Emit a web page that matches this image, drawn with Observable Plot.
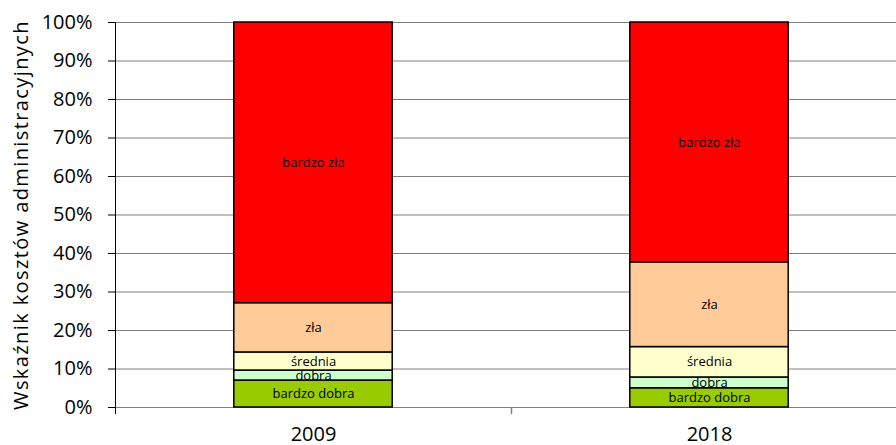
<!DOCTYPE html>
<html>
<head>
<meta charset="utf-8">
<script src="https://cdn.jsdelivr.net/npm/d3@7"></script>
<script src="https://cdn.jsdelivr.net/npm/@observablehq/plot@0.6"></script>
<style>
  html, body { margin: 0; padding: 0; background: #fff; }
  #chart svg { display: block; }
</style>
</head>
<body>
<div id="chart"></div>
<script>
// Years on the horizontal axis
const years = ["2009", "2018"];
// Rating categories, stacked bottom to top
const categories = ["bardzo dobra", "dobra", "średnia", "zła", "bardzo zła"];
// Share of each category (%) per year
const values2009 = [7.0, 2.6, 4.7, 12.8, 72.9];
const values2018 = [5.0, 2.8, 7.9, 22.0, 62.3];
// Fill colour per category
const categoryColors = ["#99cc00", "#ccffcc", "#ffffcc", "#ffcc99", "#ff0000"];
// Y tick values (%)
const yTicks = [0, 10, 20, 30, 40, 50, 60, 70, 80, 90, 100];

const table = [];
years.forEach((year, i) => {
  const vals = i === 0 ? values2009 : values2018;
  categories.forEach((c, j) => table.push({year, category: c, value: vals[j]}));
});

const W = 896, H = 445;
const xRange = [115, 907];
const step = (xRange[1] - xRange[0]) / years.length;

const chart = Plot.plot({
  width: W,
  height: H,
  marginLeft: 115,
  marginRight: 0,
  marginTop: 22,
  marginBottom: 38,
  style: {fontFamily: "'Open Sans', sans-serif", background: "#fff"},
  x: {type: "band", domain: years, range: xRange, paddingInner: 0.6, paddingOuter: 0.3, round: false},
  y: {domain: [0, 100]},
  color: {domain: categories, range: categoryColors},
  marks: [
    // horizontal gridlines
    Plot.ruleY(yTicks, {stroke: "#808080", strokeWidth: 1}),
    // vertical axis line
    Plot.ruleX([years[0]], {dx: -step / 2, y1: -1.85, y2: 100, stroke: "#000", strokeWidth: 1}),
    // boundary tick between the two years
    Plot.ruleX([years[1]], {dx: -step / 2, y1: -1.85, y2: 0, stroke: "#808080", strokeWidth: 1.5}),
    Plot.axisY({
      ticks: yTicks,
      tickFormat: d => d + "%",
      tickSize: 7,
      tickPadding: 16,
      fontSize: 20,
      label: "Wskaźnik kosztów administracyjnych",
      labelAnchor: "center",
      labelArrow: "none",
      labelOffset: 102
    }),
    Plot.axisX({tickSize: 0, tickPadding: 19, fontSize: 20, label: null}),
    Plot.barY(table, {
      x: "year",
      y: "value",
      fill: "category",
      stroke: "#000",
      strokeWidth: 1.5,
      order: categories
    }),
    Plot.text(table, Plot.stackY({
      x: "year",
      y: "value",
      z: "category",
      order: categories,
      text: "category",
      fontSize: 13,
      fill: "#000"
    }))
  ]
});

// widen the rotated axis title a little
d3.select(chart).selectAll("g[aria-label='y-axis label'] text").style("letter-spacing", "1.4px");

document.getElementById("chart").appendChild(chart);
</script>
</body>
</html>
